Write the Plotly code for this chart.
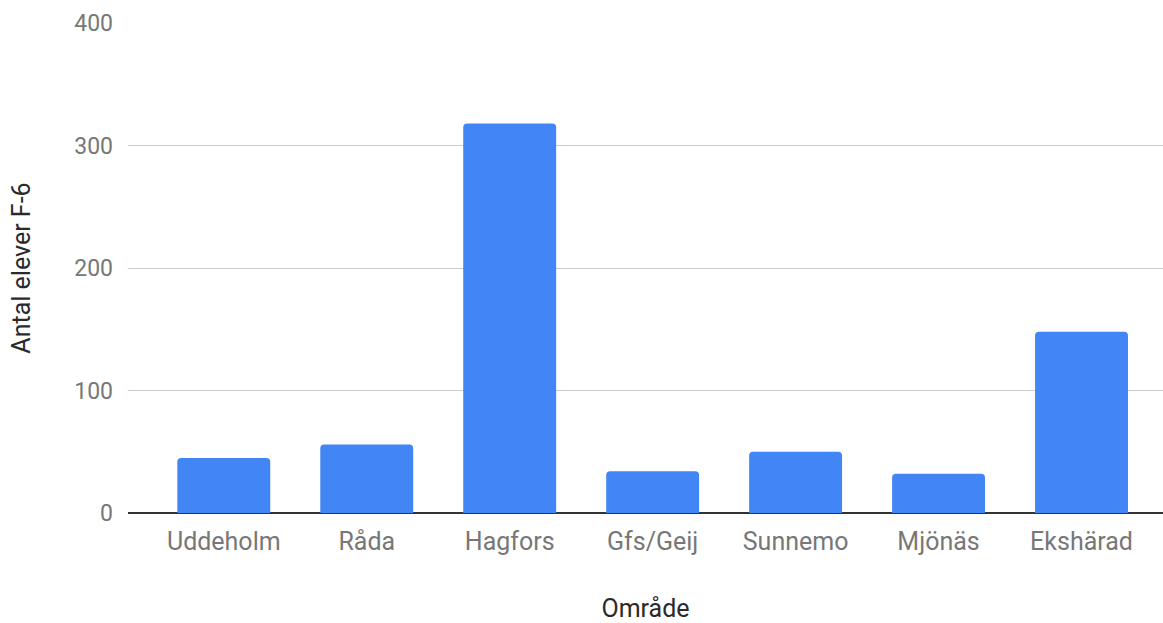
import plotly.graph_objects as go

categories = ["Uddeholm", "Råda", "Hagfors", "Gfs/Geij", "Sunnemo", "Mjönäs", "Ekshärad"]
values = [45, 56, 318, 34, 50, 32, 148]
y_ticks = [0, 100, 200, 300, 400]

fig = go.Figure(go.Bar(
    x=categories, y=values,
    marker=dict(color="#4285F4", line=dict(width=0), cornerradius=4),
    width=0.65,
))

fig.update_layout(
    width=1163, height=623,
    margin=dict(l=128, r=0, t=23, b=110),
    plot_bgcolor="white", paper_bgcolor="white",
    font=dict(family="Roboto", size=22, color="#757575"),
    showlegend=False,
)
fig.update_xaxes(
    range=[-0.67, 6.57],
    showgrid=False, showline=False, ticks="",
    tickfont=dict(size=25, color="#777777"),
    ticklabelstandoff=11,
    title=dict(text="Område", font=dict(size=25, color="#2a2a2a"), standoff=46),
)
fig.update_yaxes(
    range=[0, 400], tickvals=y_ticks,
    showgrid=True, gridcolor="#cccccc", gridwidth=1.3,
    zeroline=True, zerolinecolor="#333333", zerolinewidth=2,
    showline=False, ticks="",
    tickfont=dict(size=23, color="#777777"),
    ticklabelstandoff=14,
    title=dict(text="Antal elever F-6", font=dict(size=25, color="#2a2a2a"), standoff=36),
)

fig.write_html("out.html", config={"displayModeBar": False},
               post_script="document.body.style.margin='0';")
